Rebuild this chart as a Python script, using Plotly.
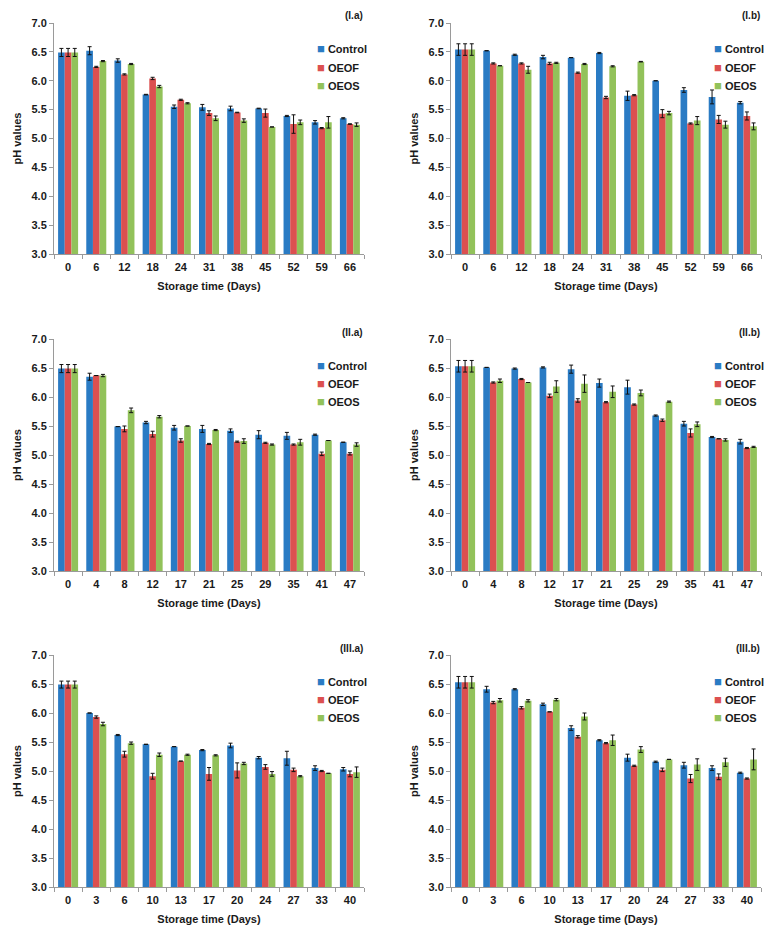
import plotly.graph_objects as go

# ---------------- data ----------------
series_names = ["Control", "OEOF", "OEOS"]
colors = ["#2A7BC4", "#DC5050", "#92C25A"]

days_Ia = ["0", "6", "12", "18", "24", "31", "38", "45", "52", "59", "66"]
Ia_control = [6.49, 6.52, 6.35, 5.76, 5.55, 5.54, 5.52, 5.52, 5.39, 5.28, 5.35]
Ia_oeof    = [6.49, 6.24, 6.11, 6.04, 5.67, 5.44, 5.45, 5.44, 5.25, 5.18, 5.25]
Ia_oeos    = [6.49, 6.34, 6.29, 5.90, 5.61, 5.35, 5.31, 5.20, 5.28, 5.28, 5.24]
Ia_control_err = [0.07, 0.07, 0.03, 0.005, 0.03, 0.05, 0.04, 0.005, 0.01, 0.03, 0.01]
Ia_oeof_err    = [0.07, 0.01, 0.01, 0.02, 0.01, 0.04, 0.005, 0.07, 0.16, 0.01, 0.005]
Ia_oeos_err    = [0.07, 0.01, 0.01, 0.02, 0.01, 0.04, 0.03, 0.0, 0.04, 0.10, 0.03]

days_Ib = ["0", "6", "12", "18", "24", "31", "38", "45", "52", "59", "66"]
Ib_control = [6.54, 6.52, 6.45, 6.41, 6.40, 6.48, 5.74, 6.00, 5.84, 5.72, 5.62]
Ib_oeof    = [6.54, 6.30, 6.30, 6.30, 6.14, 5.71, 5.75, 5.43, 5.26, 5.33, 5.39]
Ib_oeos    = [6.54, 6.26, 6.19, 6.31, 6.29, 6.25, 6.33, 5.44, 5.31, 5.24, 5.21]
Ib_control_err = [0.10, 0.0, 0.01, 0.03, 0.0, 0.01, 0.08, 0.0, 0.04, 0.12, 0.02]
Ib_oeof_err    = [0.10, 0.01, 0.01, 0.02, 0.01, 0.02, 0.01, 0.07, 0.01, 0.07, 0.07]
Ib_oeos_err    = [0.10, 0.0, 0.06, 0.01, 0.01, 0.01, 0.005, 0.03, 0.07, 0.06, 0.06]

days_IIa = ["0", "4", "8", "12", "17", "21", "25", "29", "35", "41", "47"]
IIa_control = [6.49, 6.35, 5.49, 5.56, 5.47, 5.45, 5.42, 5.35, 5.33, 5.35, 5.22]
IIa_oeof    = [6.49, 6.37, 5.45, 5.36, 5.25, 5.19, 5.23, 5.21, 5.18, 5.02, 5.02]
IIa_oeos    = [6.49, 6.37, 5.77, 5.66, 5.50, 5.43, 5.24, 5.18, 5.22, 5.25, 5.18]
IIa_control_err = [0.07, 0.06, 0.0, 0.02, 0.04, 0.06, 0.03, 0.07, 0.06, 0.01, 0.0]
IIa_oeof_err    = [0.07, 0.0, 0.05, 0.05, 0.03, 0.01, 0.01, 0.01, 0.01, 0.03, 0.02]
IIa_oeos_err    = [0.07, 0.02, 0.04, 0.02, 0.0, 0.01, 0.04, 0.01, 0.05, 0.0, 0.03]

days_IIb = ["0", "4", "8", "12", "17", "21", "25", "29", "35", "41", "47"]
IIb_control = [6.53, 6.51, 6.49, 6.51, 6.48, 6.24, 6.17, 5.68, 5.54, 5.31, 5.23]
IIb_oeof    = [6.53, 6.25, 6.31, 6.02, 5.94, 5.91, 5.87, 5.60, 5.38, 5.28, 5.12]
IIb_oeos    = [6.53, 6.28, 6.25, 6.18, 6.23, 6.09, 6.07, 5.92, 5.53, 5.26, 5.14]
IIb_control_err = [0.10, 0.0, 0.01, 0.01, 0.07, 0.07, 0.12, 0.01, 0.04, 0.01, 0.04]
IIb_oeof_err    = [0.10, 0.01, 0.01, 0.03, 0.03, 0.01, 0.01, 0.02, 0.07, 0.0, 0.01]
IIb_oeos_err    = [0.10, 0.03, 0.0, 0.10, 0.15, 0.10, 0.05, 0.01, 0.04, 0.02, 0.01]

days_IIIa = ["0", "3", "6", "10", "13", "17", "20", "24", "27", "33", "40"]
IIIa_control = [6.49, 6.00, 5.62, 5.46, 5.42, 5.36, 5.44, 5.23, 5.22, 5.05, 5.03]
IIIa_oeof    = [6.49, 5.93, 5.29, 4.91, 5.17, 4.95, 5.01, 5.07, 5.02, 5.00, 4.95]
IIIa_oeos    = [6.49, 5.81, 5.48, 5.28, 5.28, 5.27, 5.13, 4.95, 4.91, 4.96, 4.98]
IIIa_control_err = [0.06, 0.0, 0.01, 0.0, 0.0, 0.01, 0.04, 0.02, 0.12, 0.04, 0.03]
IIIa_oeof_err    = [0.06, 0.02, 0.05, 0.05, 0.0, 0.11, 0.13, 0.04, 0.03, 0.01, 0.05]
IIIa_oeos_err    = [0.06, 0.03, 0.02, 0.03, 0.01, 0.01, 0.02, 0.04, 0.01, 0.0, 0.09]

days_IIIb = ["0", "3", "6", "10", "13", "17", "20", "24", "27", "33", "40"]
IIIb_control = [6.53, 6.41, 6.41, 6.15, 5.74, 5.53, 5.23, 5.16, 5.10, 5.05, 4.97]
IIIb_oeof    = [6.53, 6.18, 6.09, 6.02, 5.59, 5.48, 5.09, 5.02, 4.87, 4.90, 4.87]
IIIb_oeos    = [6.53, 6.22, 6.21, 6.23, 5.94, 5.53, 5.37, 5.20, 5.11, 5.15, 5.20]
IIIb_control_err = [0.10, 0.05, 0.01, 0.02, 0.04, 0.01, 0.06, 0.01, 0.05, 0.04, 0.01]
IIIb_oeof_err    = [0.10, 0.02, 0.02, 0.0, 0.02, 0.01, 0.01, 0.03, 0.07, 0.05, 0.01]
IIIb_oeos_err    = [0.10, 0.03, 0.02, 0.02, 0.06, 0.09, 0.05, 0.0, 0.10, 0.07, 0.18]

panel_labels = ["(I.a)", "(I.b)", "(II.a)", "(II.b)", "(III.a)", "(III.b)"]
y_ticks = [3.0, 3.5, 4.0, 4.5, 5.0, 5.5, 6.0, 6.5, 7.0]
x_title = "Storage time (Days)"
y_title = "pH values"

panels = [
    (days_Ia, [Ia_control, Ia_oeof, Ia_oeos], [Ia_control_err, Ia_oeof_err, Ia_oeos_err]),
    (days_Ib, [Ib_control, Ib_oeof, Ib_oeos], [Ib_control_err, Ib_oeof_err, Ib_oeos_err]),
    (days_IIa, [IIa_control, IIa_oeof, IIa_oeos], [IIa_control_err, IIa_oeof_err, IIa_oeos_err]),
    (days_IIb, [IIb_control, IIb_oeof, IIb_oeos], [IIb_control_err, IIb_oeof_err, IIb_oeos_err]),
    (days_IIIa, [IIIa_control, IIIa_oeof, IIIa_oeos], [IIIa_control_err, IIIa_oeof_err, IIIa_oeos_err]),
    (days_IIIb, [IIIb_control, IIIb_oeof, IIIb_oeos], [IIIb_control_err, IIIb_oeof_err, IIIb_oeos_err]),
]

# ---------------- layout geometry (page pixels; page body has an 8px margin) ----------------
OFF = 8
W, H = 778 - 2 * OFF, 933 - 2 * OFF
col_px = [(54, 364), (451, 761)]
row_px = [(23, 254), (339, 571), (655, 887)]


def fx(px):
    return (px - OFF) / W


def fy(py):
    return 1 - (py - OFF) / H


FONT = "'Liberation Sans', Arial, sans-serif"
AXIS_COL = "#9a9a9a"
TXT = "#1a1a1a"

fig = go.Figure()
layout = dict(
    template="none",
    width=W, height=H,
    margin=dict(l=0, r=0, t=0, b=0, autoexpand=False),
    paper_bgcolor="white", plot_bgcolor="white",
    barmode="group", bargap=0.29, bargroupgap=0.0,
    font=dict(family=FONT, size=11, color=TXT, weight="bold"),
    showlegend=False,
)
annotations = []

for i, (cats, vals, errs) in enumerate(panels):
    r, c = divmod(i, 2)
    sfx = "" if i == 0 else str(i + 1)
    xa, ya = "x" + sfx, "y" + sfx
    for s in range(3):
        fig.add_trace(go.Bar(
            x=cats, y=vals[s], name=series_names[s],
            marker=dict(color=colors[s], line=dict(width=0)),
            error_y=dict(type="data", array=errs[s], visible=True,
                         color="#111111", thickness=1, width=2),
            xaxis=xa, yaxis=ya, showlegend=False,
        ))
    x0, x1 = col_px[c]
    y0, y1 = row_px[r]
    layout["xaxis" + sfx] = dict(
        domain=[fx(x0), fx(x1)], anchor=ya, type="category", automargin=False,
        showline=True, linecolor=AXIS_COL, linewidth=1,
        ticks="outside", tickson="boundaries", ticklen=4, tickcolor=AXIS_COL,
        ticklabelstandoff=3,
        showgrid=False, zeroline=False,
        tickfont=dict(size=11, family=FONT, weight="bold", color=TXT),
        title=dict(text=x_title, font=dict(size=11, family=FONT, weight="bold", color=TXT), standoff=10),
    )
    layout["yaxis" + sfx] = dict(
        domain=[fy(y1), fy(y0)], anchor=xa, automargin=False,
        range=[3, 7], tickvals=y_ticks, tickformat=".1f",
        showline=True, linecolor=AXIS_COL, linewidth=1,
        ticks="outside", ticklen=4, tickcolor=AXIS_COL,
        showgrid=False, zeroline=False,
        tickfont=dict(size=11, family=FONT, weight="bold", color=TXT),
        title=dict(text=y_title, font=dict(size=11, family=FONT, weight="bold", color=TXT), standoff=7),
    )
    # legend (one per panel)
    for s in range(3):
        annotations.append(dict(
            text='<span style="color:%s;font-size:13px">■</span> %s' % (colors[s], series_names[s]),
            xref="paper", yref="paper",
            x=fx(x1 - 49), y=fy(y0 + 26 + 18 * s), xanchor="left", yanchor="middle",
            showarrow=False, align="left",
            font=dict(size=11, family=FONT, weight="bold", color=TXT),
        ))
    annotations.append(dict(
        text=panel_labels[i], xref="paper", yref="paper",
        x=fx(x1 + 1), y=fy(y0 - 7), xanchor="right", yanchor="middle",
        showarrow=False, font=dict(size=10, family=FONT, weight="bold", color=TXT),
    ))

layout["annotations"] = annotations
fig.update_layout(**layout)
fig.write_html("out.html")
